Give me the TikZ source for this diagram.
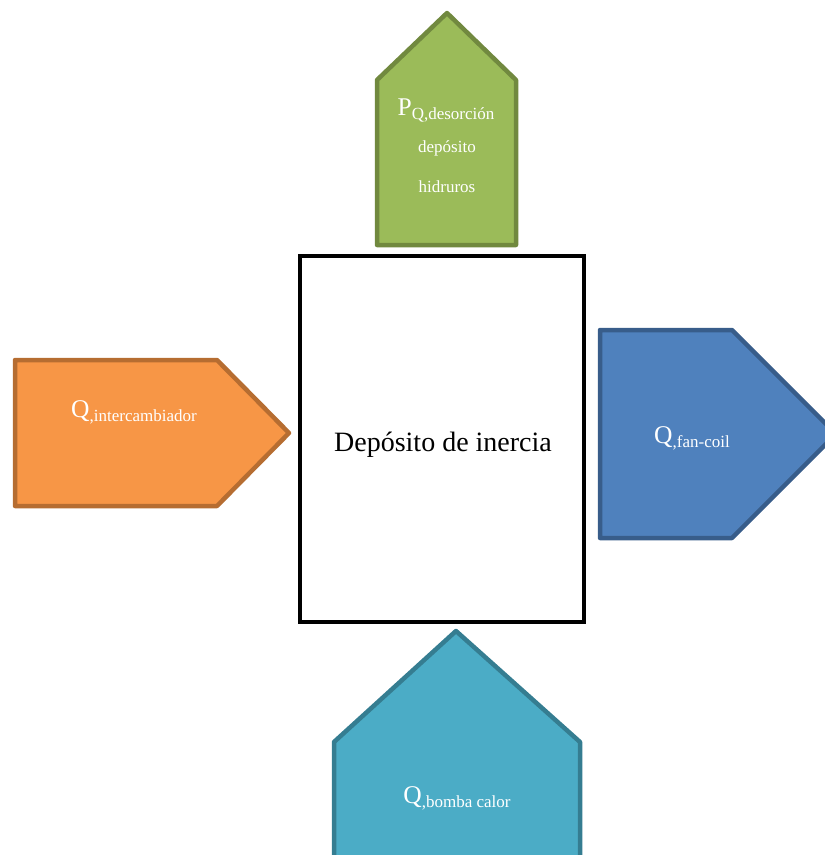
\documentclass[tikz,border=0pt]{standalone}
\usepackage{fontspec}
\setmainfont{Liberation Serif}
\definecolor{greenfill}{HTML}{9BBB59}
\definecolor{greenline}{HTML}{71893F}
\definecolor{orangefill}{HTML}{F79646}
\definecolor{orangeline}{HTML}{B66D31}
\definecolor{bluefill}{HTML}{4F81BD}
\definecolor{blueline}{HTML}{385D8A}
\definecolor{tealfill}{HTML}{4BACC6}
\definecolor{tealline}{HTML}{357D91}
\newcommand{\bigsym}[1]{{\fontsize{25.5}{25.5}\selectfont #1}}
\newcommand{\subtxt}[1]{\raisebox{-4pt}{\fontsize{17}{17}\selectfont #1}}
\begin{document}
\begin{tikzpicture}[x=1pt,y=-1pt,
  flow/.style={line width=4.5pt,line join=round},
  label/.style={text=white,inner sep=0pt,anchor=base,font=\fontsize{17}{17}\selectfont},
  tank/.style={draw=black,line width=4.5pt,fill=white,inner sep=0pt}]
\useasboundingbox (0,0) rectangle (825,855);
\clip (0,0) rectangle (825,855);
% central storage tank
\node[tank,minimum width=284pt,minimum height=366pt] (tank) at (442,439) {};
\node[inner sep=0pt,anchor=base,font=\fontsize{28}{28}\selectfont] (tanklabel) at (443,451) {Depósito de inercia};
% desorption input from the hydride store (top)
\draw[flow,draw=greenline,fill=greenfill] (377,245) -- (377,80) -- (447,13) -- (516,80) -- (516,245) -- cycle;
\node[label] (desorb) at (446,115) {\bigsym{P}\subtxt{Q,desorción}};
\node[label] (desorb2) at (447,152) {depósito};
\node[label] (desorb3) at (447,192) {hidruros};
% heat exchanger input (left)
\draw[flow,draw=orangeline,fill=orangefill] (15,360) -- (217,360) -- (289,433) -- (217,506) -- (15,506) -- cycle;
\node[label] (hx) at (134,417) {\bigsym{Q}\subtxt{,intercambiador}};
% fan-coil output (right)
\draw[flow,draw=blueline,fill=bluefill] (600,330) -- (732,330) -- (836,434) -- (732,538) -- (600,538) -- cycle;
\node[label] (fancoil) at (692,443) {\bigsym{Q}\subtxt{,fan-coil}};
% heat pump input (bottom)
\draw[flow,draw=tealline,fill=tealfill] (334,870) -- (334,742) -- (456,631) -- (580,742) -- (580,870) -- cycle;
\node[label] (pump) at (457,803) {\bigsym{Q}\subtxt{,bomba calor}};
\end{tikzpicture}
\end{document}
